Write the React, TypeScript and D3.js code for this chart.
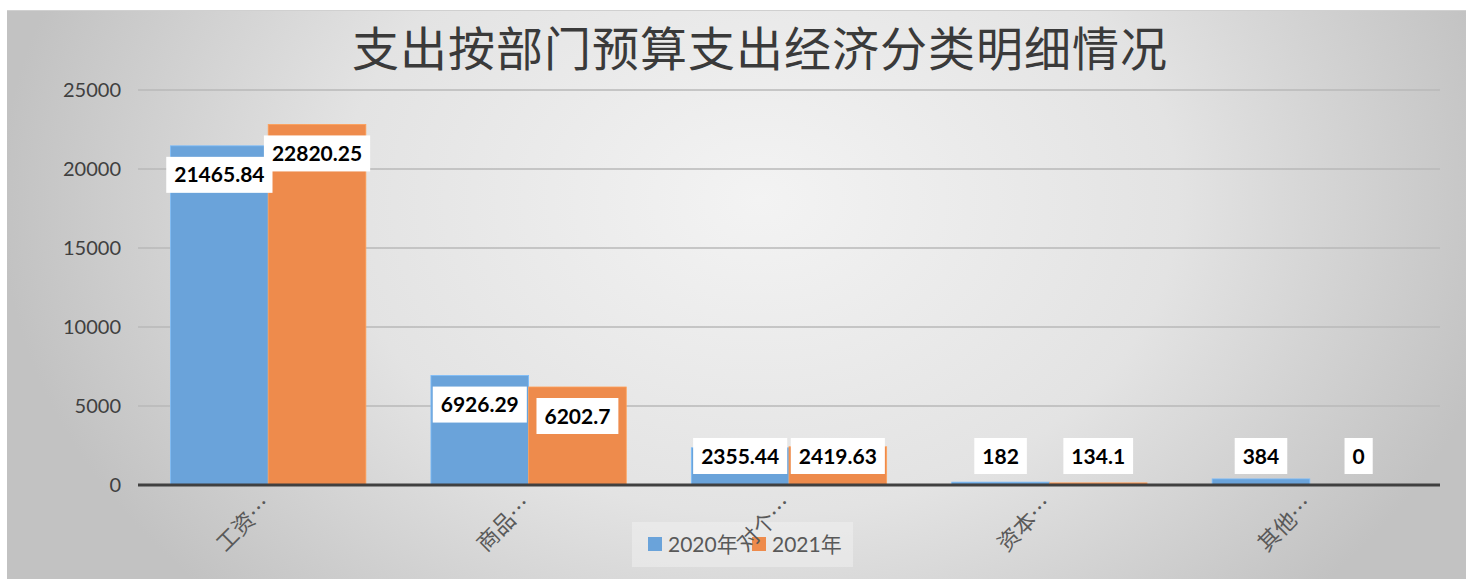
import React, { useEffect, useRef } from "react";
import * as d3 from "d3";

const categories = ["工资…", "商品…", "对个…", "资本…", "其他…"];
const seriesNames = ["2020年", "2021年"];
const values2020 = [21465.84, 6926.29, 2355.44, 182, 384];
const values2021 = [22820.25, 6202.7, 2419.63, 134.1, 0];
const yTicks = [0, 5000, 10000, 15000, 20000, 25000];
const colors = ["#6aa3da", "#ee8b4c"];
const title = "支出按部门预算支出经济分类明细情况";

const W = 1466;
const H = 579;

export default function App() {
  const ref = useRef<SVGSVGElement>(null);

  useEffect(() => {
    const svg = d3.select(ref.current);
    svg.selectAll("*").remove();

    const defs = svg.append("defs");
    const rg = defs
      .append("radialGradient")
      .attr("id", "bg")
      .attr("gradientUnits", "userSpaceOnUse")
      .attr("cx", 760)
      .attr("cy", 200)
      .attr("r", 760)
      .attr("gradientTransform", "translate(760,200) scale(1,0.75) translate(-760,-200)");
    rg.append("stop").attr("offset", "0%").attr("stop-color", "#f3f3f3");
    rg.append("stop").attr("offset", "55%").attr("stop-color", "#e3e3e3");
    rg.append("stop").attr("offset", "100%").attr("stop-color", "#c2c2c2");

    svg.append("rect").attr("x", 0).attr("y", 0).attr("width", W).attr("height", H).attr("fill", "#ffffff");
    svg
      .append("rect")
      .attr("x", 7)
      .attr("y", 10)
      .attr("width", W - 7)
      .attr("height", H - 10)
      .attr("fill", "url(#bg)");
    svg.append("line").attr("x1", 7).attr("x2", W).attr("y1", 10.5).attr("y2", 10.5).attr("stroke", "#d0d0d0").attr("stroke-width", 1);

    const left = 138;
    const right = 1440;
    const x0 = d3.scaleBand<string>().domain(categories).range([left, right]).paddingInner(0.25).paddingOuter(0.125);
    const x1 = d3.scaleBand<string>().domain(seriesNames).range([0, x0.bandwidth()]);
    const y = d3.scaleLinear().domain([0, 25000]).range([485, 90]);

    // title
    svg
      .append("text")
      .attr("x", 760)
      .attr("y", 66)
      .attr("text-anchor", "middle")
      .attr("font-family", "'Noto Sans CJK SC'")
      .attr("font-size", 47)
      .attr("fill", "#3a3a3a")
      .attr("letter-spacing", 1)
      .text(title);

    // gridlines
    const g = svg.append("g");
    yTicks.forEach((t) => {
      if (t === 0) return;
      g.append("line")
        .attr("x1", left)
        .attr("x2", right)
        .attr("y1", y(t))
        .attr("y2", y(t))
        .attr("stroke", "#b8b8b8")
        .attr("stroke-width", 1.3);
    });
    // y tick labels
    yTicks.forEach((t) => {
      g.append("text")
        .attr("x", 121)
        .attr("y", y(t))
        .attr("dy", "0.35em")
        .attr("text-anchor", "end")
        .attr("font-family", "Lato, 'Open Sans', sans-serif")
        .attr("font-size", 20)
        .attr("fill", "#404040")
        .text(String(t));
    });

    const series = [values2020, values2021];
    // bars
    series.forEach((vals, si) => {
      vals.forEach((v, ci) => {
        const bx = (x0(categories[ci]) as number) + (x1(seriesNames[si]) as number);
        svg
          .append("rect")
          .attr("x", bx)
          .attr("y", y(v))
          .attr("width", x1.bandwidth())
          .attr("height", y(0) - y(v))
          .attr("fill", colors[si])
          .attr("stroke", d3.color(colors[si])!.brighter(0.4).toString())
          .attr("stroke-width", 0.8);
      });
    });

    // axis line
    svg
      .append("line")
      .attr("x1", left)
      .attr("x2", right)
      .attr("y1", y(0))
      .attr("y2", y(0))
      .attr("stroke", "#404040")
      .attr("stroke-width", 3);

    // data labels
    const boxH = 36;
    series.forEach((vals, si) => {
      vals.forEach((v, ci) => {
        const cx = (x0(categories[ci]) as number) + (x1(seriesNames[si]) as number) + x1.bandwidth() / 2;
        const cy = Math.min(y(v) + 11 + boxH / 2, y(0) - 11 - boxH / 2);
        const lg = svg.append("g");
        const rect = lg.append("rect").attr("fill", "#ffffff");
        const txt = lg
          .append("text")
          .attr("x", cx)
          .attr("y", cy)
          .attr("dy", "0.36em")
          .attr("text-anchor", "middle")
          .attr("font-family", "Lato, 'Open Sans', sans-serif")
          .attr("font-weight", 700)
          .attr("font-size", 21)
          .attr("fill", "#000000")
          .text(String(v));
        const w = (txt.node() as SVGTextElement).getComputedTextLength() + 16;
        rect
          .attr("x", cx - w / 2)
          .attr("y", cy - boxH / 2)
          .attr("width", w)
          .attr("height", boxH);
      });
    });

    // legend
    const leg = svg.append("g");
    leg
      .append("rect")
      .attr("x", 632)
      .attr("y", 522)
      .attr("width", 221)
      .attr("height", 45)
      .attr("fill", "#f4f4f4")
      .attr("opacity", 0.45);
    const legItems = [
      { sx: 648, tx: 668 },
      { sx: 752, tx: 772 },
    ];
    seriesNames.forEach((name, i) => {
      leg
        .append("rect")
        .attr("x", legItems[i].sx)
        .attr("y", 537)
        .attr("width", 14)
        .attr("height", 14)
        .attr("fill", colors[i]);
      leg
        .append("text")
        .attr("x", legItems[i].tx)
        .attr("y", 552)
        .attr("font-family", "Lato, 'Noto Sans CJK SC', sans-serif")
        .attr("font-size", 21)
        .attr("fill", "#595959")
        .text(name);
    });

    // x labels
    categories.forEach((c) => {
      const cx = (x0(c) as number) + x0.bandwidth() / 2 + 4;
      const cy = 506;
      svg
        .append("text")
        .attr("transform", `translate(${cx},${cy}) rotate(-45)`)
        .attr("text-anchor", "end")
        .attr("font-family", "'Noto Sans CJK SC', sans-serif")
        .attr("font-size", 22)
        .attr("fill", "#595959")
        .text(c);
    });
  }, []);

  return (
    <svg
      ref={ref}
      width={W}
      height={H}
      style={{ position: "absolute", left: 0, top: 0, display: "block" }}
    />
  );
}
